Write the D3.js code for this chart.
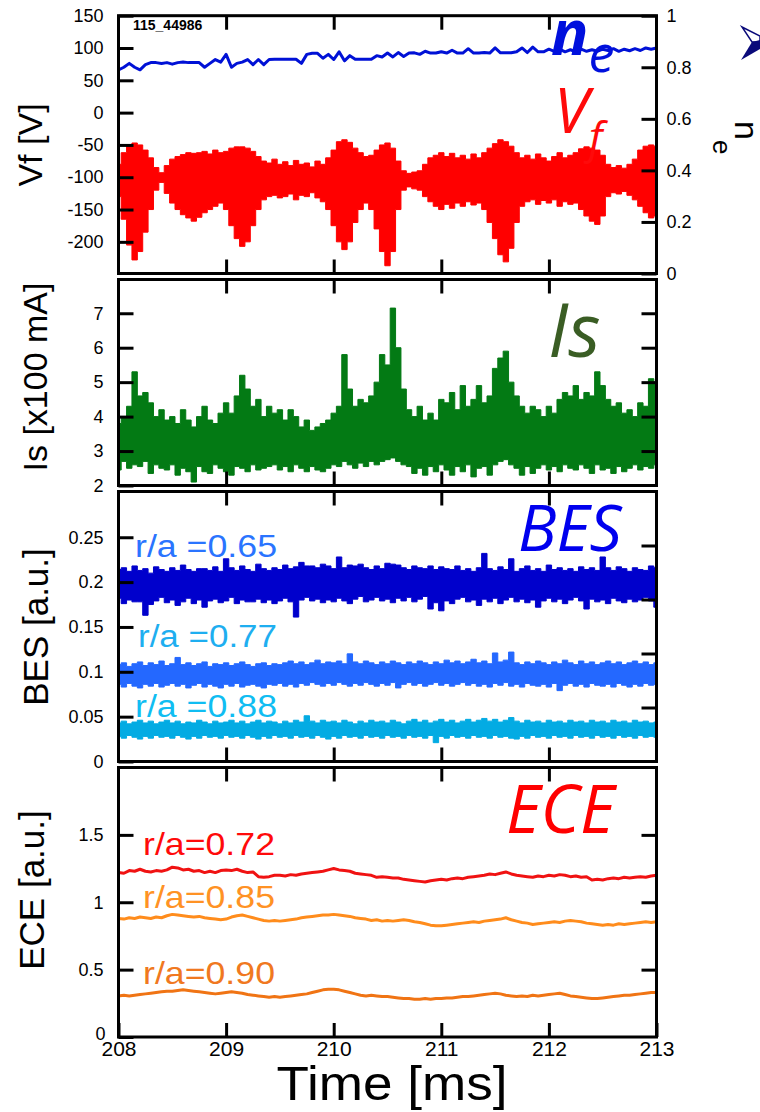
<!DOCTYPE html>
<html>
<head>
<meta charset="utf-8">
<script src="https://cdn.jsdelivr.net/npm/d3@7"></script>
<style>
  body { margin: 0; background: #fff; }
  svg { display: block; }
  text { font-family: "Liberation Sans", Arial, sans-serif; }
  .big { font-family: "Open Sans", sans-serif; font-style: italic; }
</style>
</head>
<body>
<div id="chart"></div>
<script>
/* samples every 0.05 ms from 208 to 213 ms */
const tStart = 208, tStep = 0.05;

/* Vf [V]: envelope of the floating potential signal */
const vfUpper = [-80,-62,-50,-47,-50,-58,-70,-85,-93,-82, -72,-68,-65,-62,-63,-62,-60,-64,-58,-62,
  -60,-55,-53,-53,-55,-60,-68,-75,-78,-72, -80,-76,-82,-74,-80,-78,-84,-75,-80,-70,
  -58,-45,-42,-46,-55,-62,-68,-66,-58,-50, -47,-55,-75,-90,-94,-92,-90,-80,-70,-66,
  -62,-68,-63,-70,-66,-72,-64,-70,-62,-55, -48,-42,-45,-52,-62,-70,-66,-72,-64,-70,
  -75,-68,-62,-70,-66,-62,-56,-53,-55,-58, -66,-80,-85,-82,-86,-80,-72,-58,-52,-50, -52];
const vfLower = [-130,-165,-205,-228,-215,-185,-150,-120,-108,-125, -140,-150,-158,-163,-168,-162,-155,-150,-145,-140,
  -150,-175,-195,-207,-200,-175,-150,-135,-130,-128, -132,-130,-126,-135,-128,-130,-124,-132,-138,-150,
  -175,-200,-212,-200,-170,-150,-140,-150,-180,-215, -237,-215,-150,-120,-115,-118,-120,-130,-138,-145,
  -150,-142,-148,-140,-145,-138,-143,-140,-150,-170, -195,-220,-231,-210,-170,-145,-138,-135,-142,-136,
  -140,-135,-145,-138,-142,-140,-150,-160,-168,-173, -160,-130,-124,-126,-122,-128,-135,-145,-155,-163, -160];

/* ne (right axis) */
const ne = [0.79,0.80,0.815,0.80,0.79,0.81,0.818,0.818,0.815,0.818, 0.812,0.818,0.82,0.818,0.818,0.818,0.80,0.815,0.83,0.82,
  0.85,0.80,0.815,0.82,0.83,0.81,0.83,0.81,0.83,0.831, 0.831,0.831,0.831,0.831,0.815,0.85,0.854,0.854,0.835,0.85,
  0.83,0.86,0.825,0.845,0.831,0.831,0.831,0.831,0.845,0.84, 0.855,0.84,0.857,0.842,0.855,0.856,0.85,0.862,0.855,0.855,
  0.86,0.855,0.866,0.855,0.855,0.872,0.855,0.855,0.857,0.855, 0.875,0.856,0.856,0.856,0.86,0.875,0.857,0.878,0.86,0.86,
  0.87,0.862,0.87,0.86,0.868,0.86,0.87,0.862,0.868,0.862, 0.87,0.865,0.872,0.862,0.87,0.864,0.872,0.865,0.875,0.87, 0.875];

/* Is [x100 mA] */
const isUpper = [3.8,4.0,4.3,5.3,4.6,4.7,4.4,4.0,4.2,3.9, 4.0,3.8,4.2,3.9,3.7,4.0,4.3,3.9,3.8,4.1,
  4.4,4.1,4.6,5.2,4.8,4.3,4.5,4.0,4.3,4.1, 4.2,3.9,4.2,4.0,3.7,3.9,3.6,3.7,3.8,3.9,
  4.1,4.3,5.8,4.8,4.3,4.5,4.4,4.6,5.0,5.8, 5.5,7.15,6.0,4.8,4.2,4.0,4.3,3.9,4.1,3.9,
  4.5,4.4,4.7,4.2,4.9,4.3,4.5,4.9,4.4,4.6, 5.4,5.7,5.9,5.0,4.6,4.3,4.1,4.3,4.2,4.0,
  4.3,4.1,4.5,4.7,4.6,4.9,4.5,4.7,4.6,5.3, 4.9,4.5,4.3,4.4,4.1,4.2,4.0,4.4,4.3,5.1, 5.0];
const isLower = [2.45,2.7,2.5,2.6,2.55,2.7,2.35,2.6,2.5,2.45, 2.6,2.3,2.5,2.4,2.1,2.55,2.4,2.35,2.6,2.5,
  2.4,2.3,2.55,2.5,2.4,2.6,2.45,2.5,2.55,2.6, 2.45,2.55,2.4,2.6,2.5,2.4,2.55,2.45,2.4,2.5,
  2.6,2.55,2.7,2.6,2.5,2.65,2.55,2.7,2.6,2.7, 2.75,2.8,2.7,2.6,2.55,2.35,2.5,2.3,2.55,2.4,
  2.6,2.45,2.3,2.55,2.4,2.6,2.25,2.5,2.55,2.3, 2.6,2.7,2.75,2.6,2.5,2.3,2.55,2.35,2.5,2.6,
  2.45,2.55,2.4,2.6,2.5,2.45,2.6,2.5,2.35,2.6, 2.45,2.5,2.35,2.55,2.4,2.5,2.6,2.45,2.55,2.5, 2.6];

/* BES [a.u.] at three radii */
const bes65Upper = [0.214,0.216,0.212,0.218,0.213,0.215,0.21,0.217,0.214,0.212, 0.216,0.213,0.219,0.214,0.212,0.215,0.215,0.213,0.217,0.212,
  0.226,0.216,0.213,0.218,0.214,0.212,0.22,0.215,0.213,0.216, 0.214,0.219,0.215,0.217,0.222,0.218,0.218,0.216,0.22,0.218,
  0.215,0.228,0.216,0.219,0.218,0.22,0.216,0.214,0.218,0.215, 0.221,0.22,0.219,0.216,0.214,0.218,0.216,0.215,0.218,0.214,
  0.217,0.215,0.214,0.218,0.213,0.215,0.212,0.216,0.232,0.215, 0.213,0.217,0.214,0.226,0.212,0.215,0.218,0.213,0.215,0.212,
  0.219,0.214,0.216,0.213,0.215,0.212,0.217,0.214,0.216,0.213, 0.228,0.216,0.213,0.217,0.215,0.212,0.216,0.214,0.213,0.218, 0.216];
const bes65Lower = [0.182,0.176,0.18,0.178,0.178,0.163,0.175,0.179,0.183,0.177, 0.18,0.174,0.178,0.182,0.176,0.18,0.172,0.179,0.181,0.177,
  0.179,0.183,0.176,0.18,0.178,0.178,0.181,0.177,0.18,0.176, 0.179,0.182,0.178,0.161,0.18,0.183,0.179,0.181,0.177,0.18,
  0.178,0.182,0.179,0.176,0.181,0.184,0.178,0.18,0.183,0.179, 0.181,0.177,0.182,0.179,0.183,0.178,0.181,0.184,0.17,0.177,
  0.168,0.179,0.176,0.181,0.183,0.178,0.18,0.174,0.181,0.178, 0.182,0.176,0.18,0.183,0.178,0.181,0.177,0.18,0.172,0.179,
  0.182,0.178,0.181,0.176,0.18,0.183,0.179,0.17,0.181,0.178, 0.18,0.176,0.182,0.179,0.177,0.181,0.178,0.18,0.183,0.179, 0.172];
const bes77Upper = [0.108,0.11,0.106,0.109,0.111,0.107,0.11,0.108,0.112,0.107, 0.109,0.116,0.108,0.11,0.107,0.109,0.111,0.106,0.109,0.108,
  0.11,0.107,0.109,0.111,0.108,0.106,0.109,0.11,0.107,0.109, 0.108,0.11,0.112,0.109,0.111,0.108,0.11,0.113,0.109,0.111,
  0.11,0.112,0.109,0.12,0.111,0.109,0.112,0.11,0.108,0.111, 0.109,0.112,0.11,0.108,0.111,0.109,0.112,0.11,0.108,0.111,
  0.109,0.113,0.11,0.112,0.109,0.111,0.114,0.11,0.112,0.109, 0.121,0.111,0.113,0.122,0.11,0.108,0.111,0.109,0.112,0.11,
  0.108,0.111,0.109,0.113,0.11,0.108,0.112,0.109,0.111,0.108, 0.11,0.112,0.109,0.111,0.108,0.11,0.112,0.109,0.111,0.108, 0.11];
const bes77Lower = [0.086,0.083,0.087,0.084,0.082,0.086,0.084,0.087,0.083,0.085, 0.087,0.084,0.086,0.082,0.085,0.087,0.083,0.086,0.084,0.082,
  0.086,0.084,0.087,0.083,0.085,0.086,0.084,0.082,0.086,0.085, 0.087,0.084,0.086,0.083,0.087,0.085,0.088,0.086,0.084,0.087,
  0.085,0.088,0.086,0.084,0.087,0.085,0.088,0.086,0.084,0.087, 0.085,0.088,0.082,0.086,0.088,0.085,0.087,0.084,0.086,0.088,
  0.085,0.087,0.084,0.086,0.088,0.085,0.087,0.084,0.086,0.083, 0.087,0.085,0.088,0.084,0.086,0.083,0.087,0.085,0.084,0.086,
  0.083,0.087,0.079,0.085,0.087,0.084,0.086,0.083,0.087,0.085, 0.084,0.086,0.083,0.087,0.085,0.083,0.086,0.084,0.087,0.085, 0.086];
const bes88Upper = [0.043,0.045,0.042,0.044,0.046,0.043,0.045,0.042,0.044,0.046, 0.043,0.045,0.042,0.044,0.043,0.046,0.044,0.042,0.045,0.043,
  0.044,0.046,0.043,0.045,0.042,0.044,0.046,0.043,0.045,0.044, 0.042,0.045,0.043,0.046,0.044,0.051,0.045,0.043,0.046,0.044,
  0.045,0.043,0.046,0.044,0.042,0.045,0.043,0.046,0.044,0.045, 0.043,0.046,0.044,0.042,0.045,0.047,0.044,0.046,0.043,0.045,
  0.047,0.044,0.046,0.043,0.045,0.047,0.044,0.046,0.048,0.045, 0.047,0.044,0.046,0.049,0.045,0.043,0.046,0.044,0.045,0.043,
  0.046,0.044,0.045,0.043,0.046,0.044,0.045,0.043,0.046,0.044, 0.045,0.043,0.046,0.044,0.045,0.043,0.046,0.044,0.045,0.043, 0.044];
const bes88Lower = [0.028,0.026,0.029,0.027,0.025,0.028,0.026,0.029,0.027,0.028, 0.026,0.029,0.027,0.025,0.028,0.026,0.029,0.027,0.028,0.026,
  0.029,0.027,0.028,0.026,0.029,0.027,0.025,0.028,0.026,0.029, 0.027,0.028,0.026,0.029,0.027,0.028,0.026,0.029,0.027,0.025,
  0.028,0.026,0.029,0.027,0.028,0.026,0.029,0.027,0.028,0.026, 0.029,0.027,0.028,0.026,0.029,0.027,0.028,0.026,0.029,0.021,
  0.028,0.026,0.029,0.027,0.028,0.026,0.029,0.027,0.028,0.026, 0.029,0.027,0.028,0.026,0.025,0.028,0.026,0.029,0.027,0.028,
  0.026,0.029,0.027,0.028,0.026,0.029,0.027,0.028,0.026,0.029, 0.027,0.028,0.026,0.029,0.027,0.028,0.026,0.029,0.027,0.028, 0.027];

/* ECE [a.u.] at three radii */
const ece72 = [1.22,1.215,1.235,1.23,1.245,1.23,1.225,1.235,1.23,1.24, 1.26,1.255,1.24,1.245,1.23,1.235,1.22,1.23,1.22,1.235,
  1.24,1.235,1.245,1.23,1.22,1.225,1.19,1.185,1.19,1.2, 1.2,1.195,1.205,1.2,1.21,1.215,1.22,1.225,1.23,1.24,
  1.25,1.24,1.235,1.23,1.215,1.21,1.205,1.2,1.185,1.19, 1.185,1.18,1.18,1.17,1.165,1.16,1.155,1.15,1.16,1.165,
  1.17,1.165,1.175,1.18,1.175,1.185,1.19,1.195,1.2,1.21, 1.205,1.215,1.225,1.21,1.2,1.195,1.19,1.185,1.195,1.19,
  1.2,1.195,1.205,1.2,1.19,1.195,1.185,1.19,1.165,1.17, 1.165,1.175,1.18,1.175,1.185,1.18,1.185,1.19,1.185,1.195, 1.2];
const ece85 = [0.88,0.875,0.885,0.88,0.89,0.885,0.88,0.89,0.885,0.9, 0.91,0.905,0.9,0.895,0.89,0.895,0.885,0.88,0.875,0.87,
  0.875,0.89,0.9,0.905,0.895,0.885,0.875,0.865,0.86,0.865, 0.86,0.865,0.87,0.875,0.885,0.89,0.895,0.9,0.905,0.905,
  0.91,0.905,0.9,0.895,0.885,0.88,0.875,0.865,0.87,0.86, 0.865,0.86,0.865,0.87,0.865,0.855,0.85,0.84,0.83,0.825,
  0.825,0.83,0.835,0.84,0.845,0.85,0.855,0.85,0.86,0.865, 0.87,0.875,0.885,0.87,0.86,0.85,0.845,0.835,0.84,0.845,
  0.85,0.855,0.85,0.86,0.865,0.86,0.855,0.845,0.84,0.835, 0.83,0.835,0.83,0.84,0.835,0.84,0.845,0.85,0.855,0.85, 0.855];
const ece90 = [0.305,0.31,0.305,0.31,0.315,0.32,0.325,0.33,0.335,0.34, 0.34,0.345,0.35,0.345,0.34,0.335,0.33,0.325,0.32,0.325,
  0.33,0.335,0.33,0.325,0.315,0.31,0.305,0.3,0.295,0.3, 0.295,0.3,0.305,0.31,0.315,0.32,0.33,0.34,0.35,0.355,
  0.355,0.35,0.34,0.33,0.32,0.31,0.305,0.31,0.305,0.3, 0.3,0.295,0.29,0.285,0.285,0.28,0.28,0.285,0.28,0.285,
  0.285,0.29,0.29,0.295,0.3,0.3,0.305,0.31,0.315,0.32, 0.325,0.32,0.31,0.305,0.3,0.305,0.3,0.31,0.305,0.31,
  0.315,0.32,0.325,0.315,0.305,0.3,0.295,0.29,0.285,0.285, 0.29,0.295,0.3,0.305,0.31,0.31,0.315,0.32,0.325,0.33, 0.33];

const timeTicks = [208, 209, 210, 211, 212, 213];

/* svg setup */
const svg = d3.select("#chart").append("svg").attr("width", 760).attr("height", 1112);
const x = d3.scaleLinear().domain([208, 213]).range([118.5, 656.5]);
const t = (i) => tStart + i * tStep;

function makePanel(top, bottom, name) {
  svg.append("clipPath").attr("id", "clip-" + name)
    .append("rect")
    .attr("x", x(208)).attr("y", top)
    .attr("width", x(213) - x(208)).attr("height", bottom - top);
  const g = svg.append("g");
  const plot = g.append("g").attr("clip-path", `url(#clip-${name})`);
  return { g, plot, top, bottom };
}

function styleAxis(sel, size) {
  sel.select(".domain").remove();
  sel.selectAll("line").attr("stroke", "#000").attr("stroke-width", 3);
  sel.selectAll("text").style("font-size", size + "px").attr("fill", "#000");
}

function drawAxes(p, yLeft, leftVals, leftFmt, yRight, rightVals, rightFmt, bottomLabels) {
  p.g.append("g").attr("transform", `translate(${x(208)},0)`)
    .call(d3.axisLeft(yLeft).tickValues(leftVals).tickSize(-15).tickPadding(15).tickFormat(leftFmt))
    .call((s) => styleAxis(s, 18));
  p.g.append("g").attr("transform", `translate(${x(213)},0)`)
    .call(d3.axisRight(yRight).tickValues(rightVals).tickSize(-15).tickPadding(10).tickFormat(rightFmt))
    .call((s) => styleAxis(s, 18));
  p.g.append("g").attr("transform", `translate(0,${p.top})`)
    .call(d3.axisTop(x).tickValues([209, 210, 211, 212]).tickSize(-14).tickFormat(""))
    .call((s) => styleAxis(s, 18));
  p.g.append("g").attr("class", "xbottom").attr("transform", `translate(0,${p.bottom})`)
    .call(d3.axisBottom(x).tickValues(bottomLabels ? timeTicks : [209, 210, 211, 212])
      .tickSize(-14).tickPadding(4).tickFormat(bottomLabels ? (d) => d : ""))
    .call((s) => styleAxis(s, 21));
  p.g.append("rect")
    .attr("x", x(208)).attr("y", p.top)
    .attr("width", x(213) - x(208)).attr("height", p.bottom - p.top)
    .attr("fill", "none").attr("stroke", "#000").attr("stroke-width", 3);
}

/* dense signal drawn as its min/max envelope */
function band(p, y, upper, lower, color) {
  p.plot.append("path")
    .datum(upper.map((u, i) => ({ t: t(i), u: u, l: lower[i] })))
    .attr("d", d3.area().curve(d3.curveStep).x((d) => x(d.t)).y0((d) => y(d.l)).y1((d) => y(d.u)))
    .attr("fill", color).attr("stroke", color).attr("stroke-width", 1);
}

function trace(p, y, values, color, w) {
  p.plot.append("path")
    .datum(values.map((v, i) => ({ t: t(i), v: v })))
    .attr("d", d3.line().x((d) => x(d.t)).y((d) => y(d.v)))
    .attr("fill", "none").attr("stroke", color).attr("stroke-width", w)
    .attr("stroke-linejoin", "round");
}

function label(txt, px, py, size, color, len) {
  const el = svg.append("text").attr("x", px).attr("y", py)
    .style("font-size", size + "px").attr("fill", color).text(txt);
  if (len) el.attr("textLength", len).attr("lengthAdjust", "spacingAndGlyphs");
  return el;
}

function yTitle(txt, px, py, size) {
  svg.append("text").attr("transform", `translate(${px},${py}) rotate(-90)`)
    .attr("text-anchor", "middle").style("font-size", size + "px").attr("fill", "#000").text(txt);
}

/* ---- panel 1: Vf and ne ---- */
const p1 = makePanel(15.7, 273.5, "vf");
const yVf = d3.scaleLinear().domain([-249, 150]).range([p1.bottom, p1.top]);
const yNe = d3.scaleLinear().domain([0, 1]).range([p1.bottom, p1.top]);
band(p1, yVf, vfUpper, vfLower, "#ff0000");
trace(p1, yNe, ne, "#0011d6", 3);
drawAxes(p1, yVf, [150, 100, 50, 0, -50, -100, -150, -200], (d) => d,
  yNe, [0, 0.2, 0.4, 0.6, 0.8, 1], (d) => d);

/* ---- panel 2: Is ---- */
const p2 = makePanel(279.5, 485.5, "is");
const yIs = d3.scaleLinear().domain([2, 7.98]).range([p2.bottom, p2.top]);
band(p2, yIs, isUpper, isLower, "#037a14");
drawAxes(p2, yIs, [2, 3, 4, 5, 6, 7], (d) => d, yIs, [3, 4, 5, 6, 7], "");

/* ---- panel 3: BES ---- */
const p3 = makePanel(491.5, 761.5, "bes");
const yBes = d3.scaleLinear().domain([0, 0.301]).range([p3.bottom, p3.top]);
const yBesR = d3.scaleLinear().domain([0, 0.25]).range([p3.bottom, p3.top]);
band(p3, yBes, bes65Upper, bes65Lower, "#0000cc");
band(p3, yBes, bes77Upper, bes77Lower, "#2468ff");
band(p3, yBes, bes88Upper, bes88Lower, "#03abe3");
drawAxes(p3, yBes, [0, 0.05, 0.1, 0.15, 0.2, 0.25], (d) => String(d),
  yBesR, [0.05, 0.1, 0.15, 0.2], "");

/* ---- panel 4: ECE ---- */
const p4 = makePanel(767.5, 1037, "ece");
const yEce = d3.scaleLinear().domain([0, 2]).range([p4.bottom, p4.top]);
trace(p4, yEce, ece72, "#f01212", 3);
trace(p4, yEce, ece85, "#ff8c1c", 3);
trace(p4, yEce, ece90, "#f07414", 3);
drawAxes(p4, yEce, [0, 0.5, 1, 1.5], (d) => String(d), yEce, [0.5, 1, 1.5], "", true);
p4.g.selectAll("g.tick text").filter((d) => d === 0).attr("dy", "0.12em").attr("dx", "2");

/* ---- texts ---- */
svg.append("text").attr("x", 133).attr("y", 30).style("font-size", "14px")
  .style("font-weight", "bold").attr("fill", "#000").text("115_44986");

const neLab = svg.append("text").attr("class", "big").attr("x", 551).attr("y", 55).attr("fill", "#0010dd");
neLab.append("tspan").style("font-size", "62px").style("font-weight", "bold").text("n");
neLab.append("tspan").style("font-size", "52px").attr("dy", 17).text("e");

const vfLab = svg.append("text").attr("class", "big").attr("x", 554).attr("y", 133).attr("fill", "#ff0a0a");
vfLab.append("tspan").style("font-size", "63px").text("V");
vfLab.append("tspan").style("font-size", "44px").attr("dx", 0).attr("dy", 20).text("f");

svg.append("text").attr("class", "big").attr("x", 548).attr("y", 357)
  .style("font-size", "75px").attr("fill", "#3a5d24").text("Is");
svg.append("text").attr("class", "big").attr("x", 518).attr("y", 551)
  .style("font-size", "64px").attr("fill", "#0000ee").text("BES");
svg.append("text").attr("class", "big").attr("x", 506).attr("y", 833)
  .style("font-size", "67px").attr("fill", "#ff0000").text("ECE");

label("r/a =0.65", 135, 557, 31, "#2a74ff", 142);
label("r/a =0.77", 138, 647, 31, "#1eaef0", 139);
label("r/a =0.88", 135, 717, 31, "#10bdf2", 142);
label("r/a=0.72", 143, 855, 32, "#ff0a0a", 132);
label("r/a=0.85", 143, 908, 32, "#ff9224", 132);
label("r/a=0.90", 143, 984, 32, "#f07820", 132);

yTitle("Vf [V]", 42, 145, 34);
yTitle("Is [x100 mA]", 47, 377, 34);
yTitle("BES [a.u.]", 48, 627, 35);
yTitle("ECE [a.u.]", 44, 890, 35);

svg.append("text").attr("x", 392).attr("y", 1100).attr("text-anchor", "middle")
  .style("font-size", "48px").attr("fill", "#000")
  .attr("textLength", 231).attr("lengthAdjust", "spacingAndGlyphs").text("Time [ms]");

/* right axis title: n with subscript e, turned */
svg.append("text").attr("transform", "translate(735,121) rotate(90)")
  .style("font-size", "34px").attr("fill", "#000").text("n");
svg.append("text").attr("transform", "translate(713,140) rotate(90)")
  .style("font-size", "26px").attr("fill", "#000").text("e");

/* clipped logo at the right edge */
svg.append("path").attr("d", "M742,27 L760,36 L760,42 L752,42 Z")
  .attr("fill", "#fff").attr("stroke", "#0a0a7a").attr("stroke-width", 1.5);
svg.append("path").attr("d", "M752,42 L760,40 L760,49 L741,60 Z").attr("fill", "#0a0a7a");
</script>
</body>
</html>
